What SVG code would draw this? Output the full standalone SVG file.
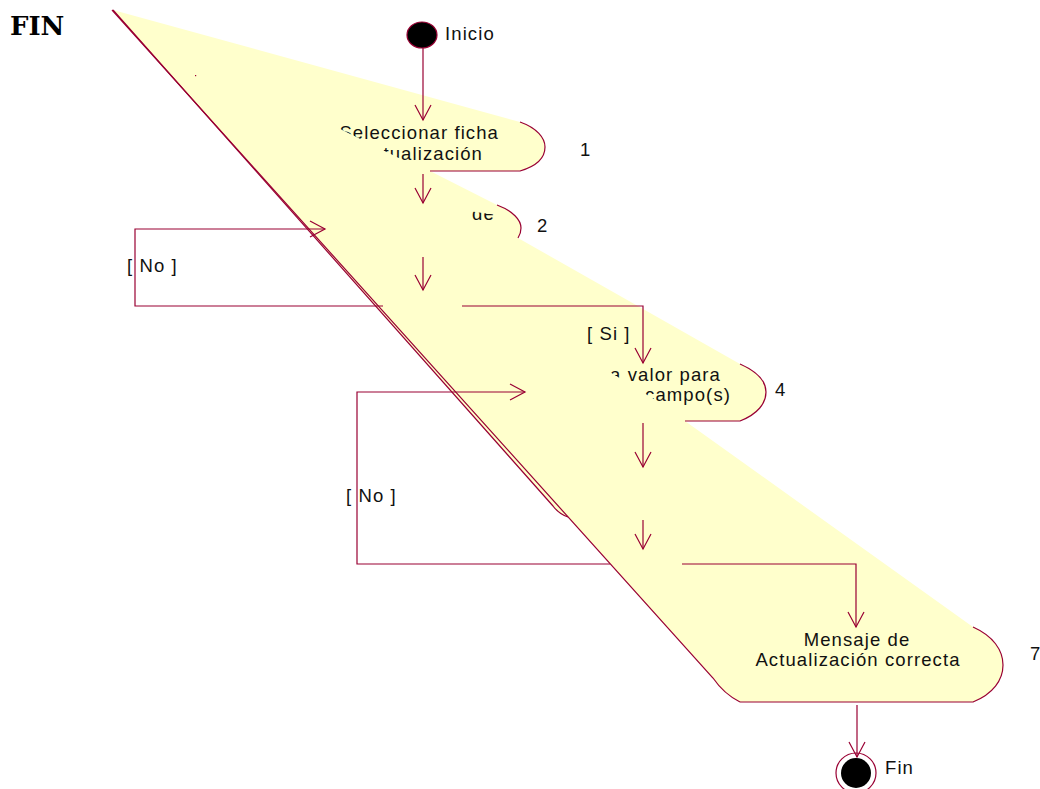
<svg xmlns="http://www.w3.org/2000/svg" width="1040" height="789" viewBox="0 0 1040 789">
<style>
.ln{fill:none;stroke:#990033;stroke-width:1.2}
.t{font-family:"Liberation Sans",Arial,sans-serif;font-size:18.5px;letter-spacing:1.1px;fill:#111}
.tc{text-anchor:middle}
.te{text-anchor:end}
</style>
<defs>
<marker id="arr" viewBox="-16 -10 20 20" refX="0" refY="0" markerWidth="20" markerHeight="20" markerUnits="userSpaceOnUse" orient="auto">
<path d="M-15,-8 L0,0 L-15,8" fill="none" stroke="#990033" stroke-width="1.2"/>
</marker>
<clipPath id="c1"><polygon points="312,115 560,115 560,170 423,170"/></clipPath>
<clipPath id="c2"><polygon points="468,211 505,216 505,226 468,226"/></clipPath>
<clipPath id="c4"><polygon points="590,360 780,360 780,410 672,410"/></clipPath>
</defs>
<rect width="1040" height="789" fill="#ffffff"/>
<text x="10" y="35" style="font-family:'DejaVu Serif',serif;font-weight:bold;font-size:26px;fill:#000">FIN</text>
<g id="swimband">
<path d="M113,10 L520,122 C537,128 545,138 545,147 C545,158 537,166 520,171 L430,171 L497,205 C513,211 521,220 521,228 C521,232 520,235 518,238 L740,364 C758,372 766,382 766,392 C766,403 758,414 740,421 L685,421 L973,627 C993,636 1003,650 1003,665 C1003,680 993,694 973,702 L740,702 Q724,694 713,678 L568,517 Q559,514 553,506 Z" fill="#FFFFCC" stroke="none"/>
<path class="ln" d="M113,10 L553,506 Q559,514 568,517"/>
<path class="ln" d="M112,10 L713,678 Q724,694 740,702"/>
<rect x="195" y="75" width="1.2" height="1.2" fill="#990033"/>
</g>
<g id="start">
<ellipse cx="422" cy="35" rx="15" ry="13" fill="#000" stroke="#990033" stroke-width="1.2"/>
<text class="t" x="445" y="40">Inicio</text>
</g>
<g id="node1">
<path class="ln" d="M520,122 C537,128 545,138 545,147 C545,158 537,166 520,171 L430,171"/>
<g clip-path="url(#c1)">
<text class="t te" x="499" y="139">Seleccionar ficha</text>
<text class="t te" x="483" y="160">tualización</text>
</g>
<text class="t" x="580" y="156">1</text>
</g>
<g id="node2">
<path class="ln" d="M497,205 C513,211 521,220 521,228 C521,232 520,235 518,238"/>
<g clip-path="url(#c2)"><text class="t" x="472" y="220">de</text></g>
<text class="t" x="537" y="232">2</text>
</g>
<g id="node4">
<path class="ln" d="M740,364 C758,372 766,382 766,392 C766,403 758,414 740,421 L685,421"/>
<g clip-path="url(#c4)">
<text class="t te" x="721" y="381">a valor para</text>
<text class="t te" x="731" y="401">campo(s)</text>
</g>
<text class="t" x="775" y="396">4</text>
</g>
<g id="node7">
<path class="ln" d="M973,627 C993,636 1003,650 1003,665 C1003,680 993,694 973,702 L740,702"/>
<text class="t tc" x="857" y="646">Mensaje de</text>
<text class="t tc" x="858" y="666">Actualización correcta</text>
<text class="t" x="1030" y="660">7</text>
</g>
<g id="end">
<circle cx="856" cy="773" r="20" fill="#fff" stroke="#990033" stroke-width="1.2"/>
<circle cx="856" cy="773" r="15" fill="#000"/>
<text class="t" x="885" y="774">Fin</text>
</g>
<g id="connectors">
<path class="ln" d="M423,48 V120" marker-end="url(#arr)"/>
<path class="ln" d="M423,174 V203" marker-end="url(#arr)"/>
<path class="ln" d="M423,257 V290" marker-end="url(#arr)"/>
<path class="ln" d="M462,306 H643 V363" marker-end="url(#arr)"/>
<path class="ln" d="M383,306 H135 V229 H325" marker-end="url(#arr)"/>
<path class="ln" d="M643,423 V467" marker-end="url(#arr)"/>
<path class="ln" d="M643,520 V549" marker-end="url(#arr)"/>
<path class="ln" d="M610,564 H357 V392 H525" marker-end="url(#arr)"/>
<path class="ln" d="M682,564 H856 V627" marker-end="url(#arr)"/>
<path class="ln" d="M857,705 V757" marker-end="url(#arr)"/>
<text class="t" x="127" y="272">[ No ]</text>
<text class="t" x="346" y="502">[ No ]</text>
<text class="t" x="587" y="340">[ Si ]</text>
</g>
</svg>
